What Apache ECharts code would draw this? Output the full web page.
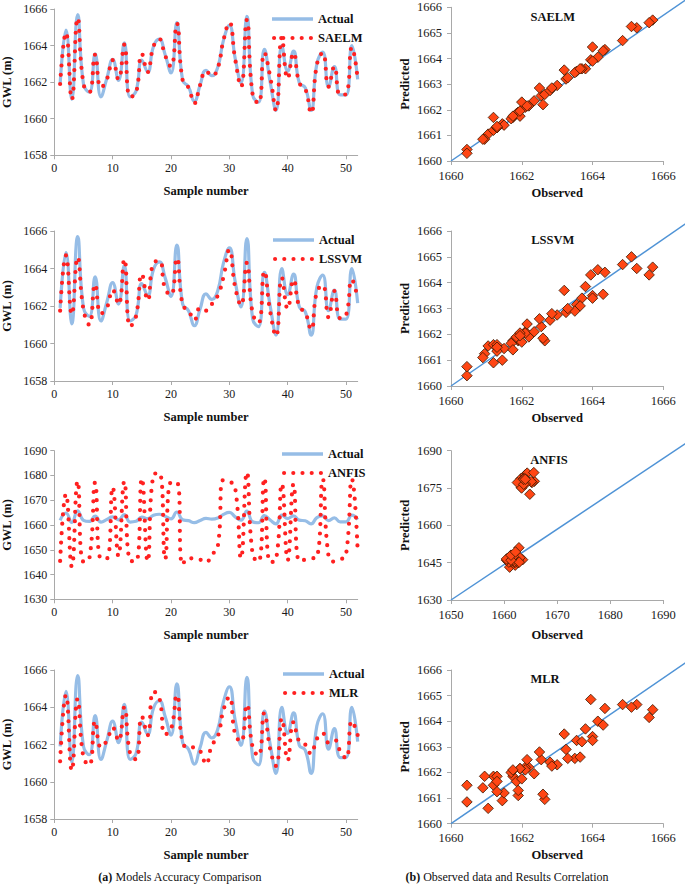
<!DOCTYPE html>
<html><head><meta charset="utf-8">
<script src="https://cdn.jsdelivr.net/npm/echarts@6/dist/echarts.min.js"></script>
<style>html,body{margin:0;padding:0;background:#fff}#c{width:685px;height:886px}</style>
</head><body><div id="c"></div>
<script>
// ---------------- data ----------------
const sampleNumbers = [1,2,3,4,5,6,7,8,9,10,11,12,13,14,15,16,17,18,19,20,21,22,23,24,25,26,27,28,29,30,31,32,33,34,35,36,37,38,39,40,41,42,43,44,45,46,47,48,49,50,51,52];
const actual = [1661.9,1664.85,1661.05,1665.7,1661.9,1661.45,1663.55,1661.2,1662.2,1663.25,1662.1,1664.15,1661.2,1661.5,1663.2,1662.55,1663.95,1664.35,1663.5,1662.5,1665.25,1662.1,1661.75,1660.95,1661.85,1662.65,1662.35,1662.8,1664.3,1665.1,1663.3,1661.95,1665.6,1661.3,1660.9,1663.8,1662.0,1660.45,1664.0,1662.6,1663.7,1661.95,1661.7,1660.45,1663.0,1663.65,1661.75,1662.85,1661.3,1661.3,1664.0,1662.15];
const saelm = [1661.9,1664.7,1661.05,1665.5,1661.9,1661.45,1663.5,1661.7,1662.15,1663.2,1662.15,1664.05,1661.2,1661.4,1663.55,1662.55,1663.95,1664.35,1663.45,1662.85,1665.2,1662.1,1661.7,1660.85,1661.85,1662.6,1662.35,1662.75,1664.3,1665.25,1663.25,1661.75,1665.4,1661.3,1660.85,1663.6,1662.3,1660.45,1664.45,1662.2,1663.6,1661.95,1661.65,1660.3,1662.95,1663.6,1661.75,1662.85,1661.3,1661.35,1663.9,1662.15];
const lssvm = [1661.75,1664.7,1661.55,1664.6,1661.8,1661.0,1663.15,1661.6,1661.9,1662.85,1662.1,1664.5,1660.9,1661.45,1663.7,1662.3,1664.3,1664.4,1662.9,1662.6,1664.55,1662.05,1661.75,1661.25,1661.9,1661.75,1662.1,1662.55,1663.55,1665.0,1663.0,1662.05,1664.3,1661.6,1661.1,1663.85,1661.7,1660.4,1663.5,1661.85,1663.4,1661.95,1661.65,1660.75,1662.75,1663.1,1661.4,1662.8,1661.35,1661.5,1663.4,1662.4];
const anfis = [1645.5,1672.5,1643.2,1677.7,1645.2,1646.3,1677.1,1646.5,1646.5,1675.3,1647.5,1677.6,1645.6,1645.3,1678.8,1645.3,1680.2,1681.0,1646.2,1677.2,1677.2,1644.0,1646.7,1646.3,1646.0,1645.0,1648.0,1651.0,1678.2,1677.6,1675.0,1646.6,1681.2,1648.0,1645.2,1679.0,1645.0,1646.0,1676.6,1645.8,1676.5,1645.5,1646.0,1646.5,1647.0,1678.5,1647.5,1645.2,1646.0,1648.0,1678.5,1649.3];
const mlr = [1661.1,1664.65,1660.6,1664.45,1661.3,1660.9,1663.25,1661.85,1662.2,1662.9,1662.2,1664.0,1661.5,1661.2,1663.5,1662.5,1664.85,1664.5,1662.55,1662.8,1664.65,1662.1,1661.85,1661.85,1661.65,1660.95,1661.95,1662.4,1663.85,1664.55,1662.55,1662.15,1664.15,1661.85,1661.4,1663.7,1661.75,1660.85,1663.4,1661.15,1663.2,1662.15,1662.0,1661.5,1662.3,1662.6,1662.1,1662.25,1661.65,1661.25,1663.25,1662.5];

const modelNames = ['SAELM','LSSVM','ANFIS','MLR'];
const predictions = [saelm, lssvm, anfis, mlr];

// axis ranges [min, max, interval]
const lineYRanges = [[1658,1666,2],[1658,1666,2],[1630,1690,10],[1658,1666,2]];
const lineXRange = [0,52];
const lineXTicks = [0,10,20,30,40,50];
const scatterXRanges = [[1660,1666,2],[1660,1666,2],[1650,1690,10],[1660,1666,2]];
const scatterYRanges = [[1660,1666,1],[1660,1666,1],[1630,1690,15],[1660,1666,1]];
// reference lines drawn in the correlation plots (data coordinates)
const refLines = [
  [[1660,1660],[1666.7,1666.35]],
  [[1660,1660],[1666.7,1666.35]],
  [[1650,1630],[1695,1694]],
  [[1660,1660],[1666.7,1666.35]]
];
const captionA = 'Models Accuracy Comparison';
const captionB = 'Observed data and Results Correlation';

// ---------------- layout / style ----------------
const FONT = 'Liberation Serif, Times New Roman, serif';
const AXIS_GREY = '#a9a9a9';
const BLUE = '#96bde6';
const RED = '#ff2020';
const REF_BLUE = '#4f93d6';
const leftLayout = [
  {top:9, height:146.3, legendTop:12.5, legendLeft:272},
  {top:231, height:150, legendTop:233.5, legendLeft:273},
  {top:450.7, height:148.6, legendTop:447.5, legendLeft:282},
  {top:670, height:149, legendTop:667.5, legendLeft:283}
];
const rightLayout = [
  {top:7.3, height:153.7, nameGap:25, title:[552.7,17]},
  {top:231, height:155, nameGap:25, title:[552.7,240]},
  {top:450.7, height:149.3, nameGap:28, title:[549,460]},
  {top:670, height:153.7, nameGap:25, title:[545,679]}
];

const fmt = v => String(v);
function axisBase(){
  return {
    axisLine:{show:true, onZero:false, lineStyle:{color:AXIS_GREY, width:1}},
    axisTick:{show:true, inside:false, length:4, lineStyle:{color:AXIS_GREY}},
    axisLabel:{color:'#1a1a1a', fontFamily:FONT, fontSize:12, formatter:fmt},
    splitLine:{show:false},
    nameLocation:'middle',
    nameTextStyle:{fontFamily:FONT, fontWeight:'bold', fontSize:12.5, color:'#111'}
  };
}

const grids = [], xAxes = [], yAxes = [], series = [], legends = [], graphics = [];

const dotIcon = 'path://M0,2.1a2.1,2.1 0 1,0 4.2,0a2.1,2.1 0 1,0 -4.2,0Z' +
  'M9.3,2.1a2.1,2.1 0 1,0 4.2,0a2.1,2.1 0 1,0 -4.2,0Z' +
  'M18.6,2.1a2.1,2.1 0 1,0 4.2,0a2.1,2.1 0 1,0 -4.2,0Z' +
  'M27.9,2.1a2.1,2.1 0 1,0 4.2,0a2.1,2.1 0 1,0 -4.2,0Z' +
  'M37.2,2.1a2.1,2.1 0 1,0 4.2,0a2.1,2.1 0 1,0 -4.2,0Z';
const lineIcon = 'path://M0,0H41V3.4H0Z';

modelNames.forEach((m, i) => {
  const L = leftLayout[i];
  grids.push({left:54.3, top:L.top, width:303.4, height:L.height, outerBoundsMode:'none'});
  xAxes.push(Object.assign(axisBase(), {
    type:'value', gridIndex:i, min:lineXRange[0], max:lineXRange[1], interval:10,
    name:'Sample number', nameGap:29,
    axisTick:{show:true, inside:false, length:4, lineStyle:{color:AXIS_GREY}, customValues:lineXTicks},
    axisLabel:{color:'#1a1a1a', fontFamily:FONT, fontSize:12, formatter:fmt, margin:7, customValues:lineXTicks}
  }));
  const yr = lineYRanges[i];
  yAxes.push(Object.assign(axisBase(), {
    type:'value', gridIndex:i, min:yr[0], max:yr[1], interval:yr[2],
    name:'GWL (m)', nameGap:41
  }));
  yAxes[yAxes.length-1].axisLabel.margin = 7;
  series.push({
    type:'line', name:'Actual', xAxisIndex:i, yAxisIndex:i,
    data: sampleNumbers.map((s, k) => [s, actual[k]]),
    smooth:0.5, showSymbol:false, symbol:'none', color:BLUE,
    lineStyle:{color:BLUE, width:3.2}, z:2, silent:true
  });
  series.push({
    type:'line', name:m, xAxisIndex:i, yAxisIndex:i,
    data: sampleNumbers.map((s, k) => [s, predictions[i][k]]),
    smooth:0.5, showSymbol:false, symbol:'none', color:RED,
    lineStyle:{color:RED, width:4.2, type:[0, 9.3], cap:'round', join:'round'}, z:3, silent:true
  });
  legends.push({
    data:[{name:'Actual', icon:lineIcon}, {name:m, icon:dotIcon}],
    orient:'vertical', left:L.legendLeft, top:L.legendTop, itemGap:6,
    itemWidth:41, itemHeight:13, selectedMode:false, padding:0,
    itemStyle:{borderWidth:0},
    textStyle:{fontFamily:FONT, fontWeight:'bold', fontSize:12.5, color:'#111', padding:[0,0,0,0]}
  });
});

modelNames.forEach((m, i) => {
  const R = rightLayout[i];
  const gi = 4 + i;
  grids.push({left:451, top:R.top, width:212.3, height:R.height, outerBoundsMode:'none'});
  const xr = scatterXRanges[i], yr = scatterYRanges[i];
  xAxes.push(Object.assign(axisBase(), {
    type:'value', gridIndex:gi, min:xr[0], max:xr[1], interval:xr[2],
    name:'Observed', nameGap:R.nameGap
  }));
  xAxes[xAxes.length-1].axisLabel.margin = 8;
  xAxes[xAxes.length-1].axisLabel.fontSize = 12.5;
  yAxes.push(Object.assign(axisBase(), {
    type:'value', gridIndex:gi, min:yr[0], max:yr[1], interval:yr[2],
    name:'Predicted', nameGap:40
  }));
  yAxes[yAxes.length-1].axisLabel.margin = 9;
  yAxes[yAxes.length-1].axisLabel.fontSize = 12.5;
  series.push({
    type:'scatter', name:m + ' correlation', xAxisIndex:gi, yAxisIndex:gi,
    data: actual.map((a, k) => [a, predictions[i][k]]),
    symbol:'diamond', symbolSize:10.5,
    itemStyle:{color:'#ff4614', borderColor:'#3a1800', borderWidth:0.8, opacity:1},
    z:3, silent:true
  });
  graphics.push({
    type:'text', x:R.title[0], y:R.title[1], silent:true,
    style:{text:m, textAlign:'center', textVerticalAlign:'middle',
      font:'bold 12.5px ' + FONT, fill:'#111'}
  });
});

graphics.push({
  type:'text', x:180, y:877, silent:true,
  style:{text:'{b|(a)} ' + captionA, textAlign:'center', textVerticalAlign:'middle',
    font:'12px ' + FONT, fill:'#111',
    rich:{b:{fontWeight:'bold', fontFamily:FONT, fontSize:12, fill:'#111'}}}
});
graphics.push({
  type:'text', x:507, y:877, silent:true,
  style:{text:'{b|(b)} ' + captionB, textAlign:'center', textVerticalAlign:'middle',
    font:'12px ' + FONT, fill:'#111',
    rich:{b:{fontWeight:'bold', fontFamily:FONT, fontSize:12, fill:'#111'}}}
});

const chart = echarts.init(document.getElementById('c'), null, {renderer:'svg', width:685, height:886});
chart.setOption({
  animation:false,
  backgroundColor:'#ffffff',
  textStyle:{fontFamily:FONT},
  grid:grids, xAxis:xAxes, yAxis:yAxes, legend:legends, series:series, graphic:graphics
});

// reference lines: positioned through the library's own axis scales (they run past the plot area)
const refGraphics = refLines.map((seg, i) => {
  const p0 = chart.convertToPixel({xAxisIndex:4 + i, yAxisIndex:4 + i}, seg[0]);
  const p1 = chart.convertToPixel({xAxisIndex:4 + i, yAxisIndex:4 + i}, seg[1]);
  return {type:'line', silent:true, z:1,
    shape:{x1:p0[0], y1:p0[1], x2:p1[0], y2:p1[1]},
    style:{stroke:REF_BLUE, lineWidth:1.5}};
});
chart.setOption({graphic: graphics.concat(refGraphics)});
</script></body></html>
